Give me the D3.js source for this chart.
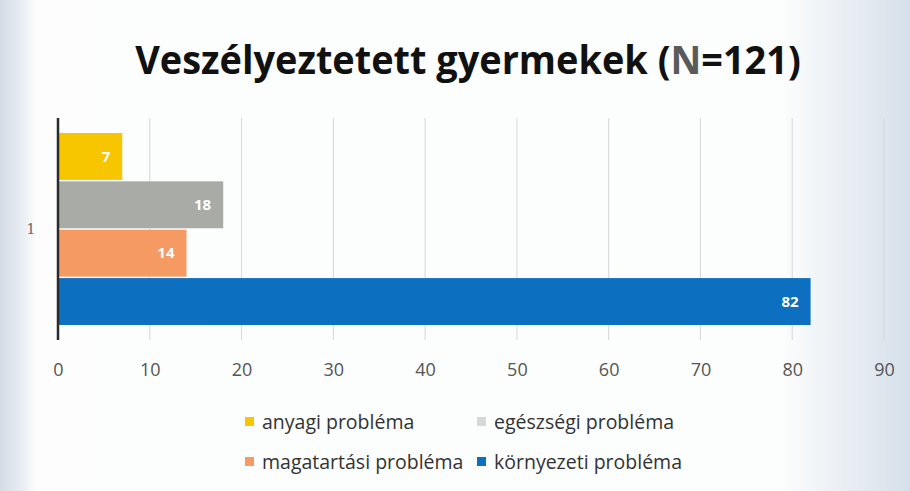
<!DOCTYPE html>
<html>
<head>
<meta charset="utf-8">
<script src="https://cdn.jsdelivr.net/npm/d3@7"></script>
<style>
  body { margin: 0; background: #fff; }
  svg { display: block; }
</style>
</head>
<body>
<div id="chart"></div>
<script>
// data
const category = ["1"];
const seriesNames = ["anyagi probléma", "egészségi probléma", "magatartási probléma", "környezeti probléma"];
const seriesValues = [7, 18, 14, 82];
const seriesColors = ["#f7c600", "#a9aba7", "#f59a63", "#0d6fbf"];
const xTicks = [0, 10, 20, 30, 40, 50, 60, 70, 80, 90];

const width = 910, height = 491;
const svg = d3.select("#chart").append("svg")
  .attr("width", width)
  .attr("height", height);

// scanned-paper background, bluish at the edges
const defs = svg.append("defs");
const grad = defs.append("linearGradient").attr("id", "bg").attr("x1", 0).attr("x2", 1).attr("y1", 0).attr("y2", 0);
[[0, "#d3dce5"], [0.02, "#e4eaf0"], [0.04, "#fdfdfd"], [0.86, "#fcfdfd"], [0.93, "#e9eef3"], [1, "#d6e0ea"]]
  .forEach(([o, c]) => grad.append("stop").attr("offset", o).attr("stop-color", c));
svg.append("rect").attr("width", width).attr("height", height).attr("fill", "url(#bg)");

// title: Calibri-like narrow look, squeezed horizontally to the scan's width
const titleG = svg.append("g");
const title = titleG.append("text")
  .attr("text-anchor", "middle")
  .attr("font-family", "'Open Sans', sans-serif")
  .attr("font-weight", 700)
  .attr("font-size", 39)
  .attr("fill", "#111");
title.append("tspan").text("Veszélyeztetett gyermekek (");
title.append("tspan").attr("fill", "#5a5a5a").text("N");
title.append("tspan").text("=121)");
const tw = title.node().getComputedTextLength();
titleG.attr("transform", `translate(468,74) scale(${666 / tw},1)`);

// scales
const x = d3.scaleLinear().domain([0, 90]).range([58, 884]);
const y = d3.scaleBand().domain(category).range([133, 325]);
const ySub = d3.scaleBand().domain(seriesNames).range([0, y.bandwidth()]).paddingInner(0.03);

// gridlines
svg.append("g")
  .selectAll("line")
  .data(xTicks.slice(1))
  .join("line")
  .attr("x1", d => x(d)).attr("x2", d => x(d))
  .attr("y1", 118).attr("y2", 340)
  .attr("stroke", "#d4d7da")
  .attr("stroke-width", 1);

// bars
const rows = seriesNames.map((name, i) => ({ name, value: seriesValues[i], color: seriesColors[i] }));
const g = svg.append("g");
g.selectAll("rect")
  .data(rows)
  .join("rect")
  .attr("x", x(0))
  .attr("y", d => y("1") + ySub(d.name))
  .attr("width", d => x(d.value) - x(0))
  .attr("height", ySub.bandwidth())
  .attr("fill", d => d.color);

g.selectAll("text")
  .data(rows)
  .join("text")
  .attr("x", d => x(d.value) - 12)
  .attr("y", d => y("1") + ySub(d.name) + ySub.bandwidth() / 2)
  .attr("dy", "0.35em")
  .attr("text-anchor", "end")
  .attr("font-family", "'Open Sans', sans-serif")
  .attr("font-weight", 700)
  .attr("font-size", 15)
  .attr("fill", "#fff")
  .text(d => d.value);

// vertical axis line
svg.append("line")
  .attr("x1", x(0)).attr("x2", x(0))
  .attr("y1", 118).attr("y2", 340)
  .attr("stroke", "#2b2b2b")
  .attr("stroke-width", 2.5);

// category label
svg.append("text")
  .attr("x", 31)
  .attr("y", y("1") + y.bandwidth() / 2)
  .attr("dy", "0.35em")
  .attr("text-anchor", "middle")
  .attr("font-family", "'DejaVu Serif', serif")
  .attr("font-size", 14)
  .attr("fill", "#666")
  .text(category[0]);

// x axis tick labels
const xAxis = d3.axisBottom(x).tickValues(xTicks).tickSize(0).tickPadding(0);
const ax = svg.append("g").attr("transform", "translate(0,370)").call(xAxis);
ax.select(".domain").remove();
ax.selectAll("text")
  .attr("font-family", "'Open Sans', sans-serif")
  .attr("font-size", 18)
  .attr("fill", "#555")
  .attr("dy", "0.35em");

// legend
const legendPos = [[245, 422], [477, 422], [245, 462], [477, 462]];
const leg = svg.append("g").selectAll("g")
  .data(rows)
  .join("g")
  .attr("transform", (d, i) => `translate(${legendPos[i][0]},${legendPos[i][1]})`);
leg.append("rect")
  .attr("x", 0).attr("y", -5)
  .attr("width", 9).attr("height", 9)
  .attr("fill", (d, i) => i === 1 ? "#d6d8d8" : d.color);
leg.append("text")
  .attr("x", 17)
  .attr("dy", "0.35em")
  .attr("font-family", "'Open Sans', sans-serif")
  .attr("font-size", 19.5)
  .attr("fill", "#333")
  .text(d => d.name);
</script>
</body>
</html>
